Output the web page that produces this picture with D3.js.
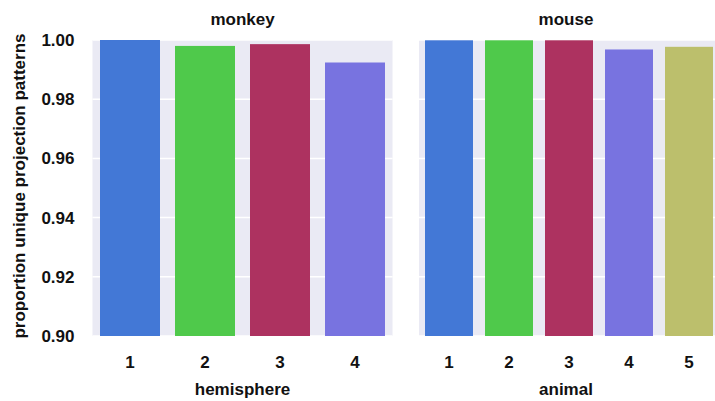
<!DOCTYPE html>
<html>
<head>
<meta charset="utf-8">
<script src="https://cdn.jsdelivr.net/npm/d3@7"></script>
<style>
body { margin: 0; background: #fff; }
text { font-family: "Liberation Sans", Arial, sans-serif; fill: #111; font-weight: bold; }
</style>
</head>
<body>
<svg id="chart" width="715" height="401"></svg>
<script>
// data
const monkeyCats = ["1", "2", "3", "4"];
const monkeyVals = [1.0, 0.998, 0.9986, 0.9924];
const mouseCats = ["1", "2", "3", "4", "5"];
const mouseVals = [0.9999, 0.9999, 0.9999, 0.9968, 0.9977];
const barColors = ["#4378d6", "#4fc94b", "#ad3260", "#7873e0", "#bcbf6c"];
const yTicks = [0.90, 0.92, 0.94, 0.96, 0.98, 1.00];

const svg = d3.select("#chart");
const plotTop = 40, plotBottom = 336;

const y = d3.scaleLinear().domain([0.9, 1.0]).range([plotBottom, plotTop]);

function panel(x0, x1, cats, vals, title, xlabel, showY) {
    const g = svg.append("g");
    const x = d3.scaleBand().domain(cats).range([x0, x1]).paddingInner(0.2).paddingOuter(0.1);
    const mid = (x0 + Math.min(x1, 713)) / 2;

    g.append("rect")
        .attr("x", x0).attr("y", plotTop)
        .attr("width", x1 - x0).attr("height", plotBottom - plotTop)
        .attr("fill", "#eaeaf4");

    g.selectAll("line.grid").data(yTicks).join("line")
        .attr("class", "grid")
        .attr("x1", x0).attr("x2", x1)
        .attr("y1", d => y(d)).attr("y2", d => y(d))
        .attr("stroke", "#fff").attr("stroke-width", 1.5);

    g.selectAll("rect.bar").data(vals).join("rect")
        .attr("class", "bar")
        .attr("x", (d, i) => x(cats[i]))
        .attr("width", x.bandwidth())
        .attr("y", d => y(d))
        .attr("height", d => y(0.9) - y(d))
        .attr("fill", (d, i) => barColors[i]);

    const xa = g.append("g").attr("transform", `translate(0,${plotBottom})`)
        .call(d3.axisBottom(x).tickSize(0).tickPadding(20));
    xa.select(".domain").remove();
    xa.selectAll("text").style("font-size", "17px").attr("fill", "#111");

    if (showY) {
        const ya = g.append("g").attr("transform", `translate(${x0},0)`)
            .call(d3.axisLeft(y).tickValues(yTicks).tickFormat(d3.format(".2f")).tickSize(0).tickPadding(18));
        ya.select(".domain").remove();
        ya.selectAll("text").style("font-size", "17px").attr("fill", "#111");
    }

    g.append("text")
        .attr("x", mid).attr("y", 25)
        .attr("text-anchor", "middle")
        .style("font-size", "17px")
        .text(title);

    g.append("text")
        .attr("x", mid).attr("y", 395)
        .attr("text-anchor", "middle")
        .style("font-size", "17px")
        .text(xlabel);
}

panel(92.5, 392.5, monkeyCats, monkeyVals, "monkey", "hemisphere", true);
panel(419, 719, mouseCats, mouseVals, "mouse", "animal", false);

svg.append("text")
    .attr("transform", `translate(25,186) rotate(-90)`)
    .attr("text-anchor", "middle")
    .style("font-size", "17px")
    .text("proportion unique projection patterns");
</script>
</body>
</html>
